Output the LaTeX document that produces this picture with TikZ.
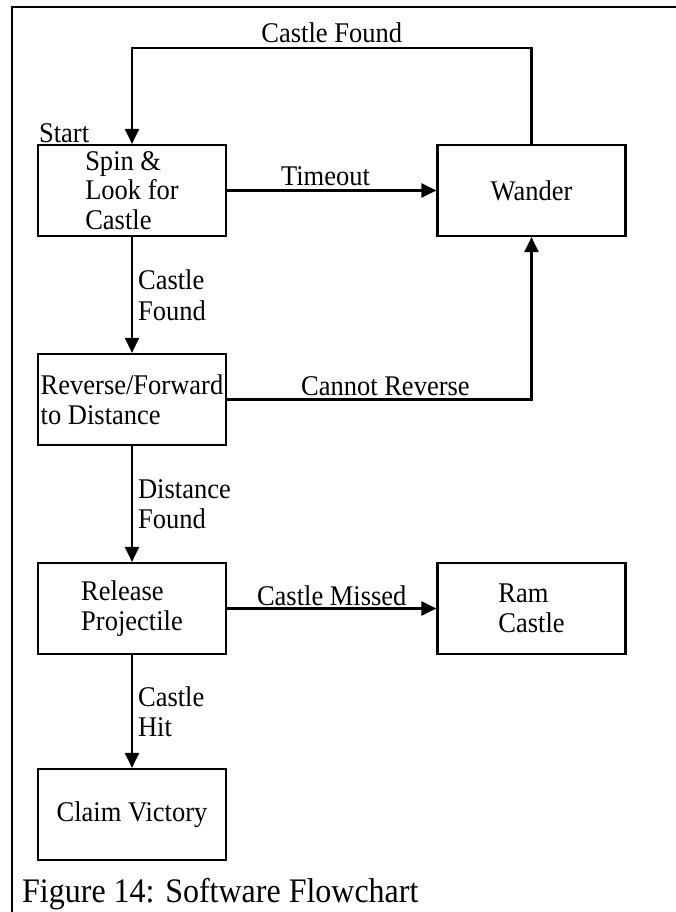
\documentclass[tikz,border=0pt]{standalone}
\usepackage{fontspec}
\setmainfont{Liberation Serif}[FakeStretch=0.93]
\usetikzlibrary{arrows.meta,positioning}

\begin{document}
\begin{tikzpicture}[x=1pt,y=-1pt,>={Triangle[length=15pt,width=14pt]},
  state/.style={draw,line width=2.2pt,minimum width=188pt,minimum height=91pt,
    inner sep=0pt,align=left,font=\fontsize{28.5}{29.5}\selectfont},
  flow/.style={->,line width=2.2pt},
  edgelabel/.style={inner sep=0pt,align=left,font=\fontsize{28.5}{30.5}\selectfont}]
  \useasboundingbox (0,0) rectangle (676,912);
  % page frame: only the top and left rules show
  \draw[line width=2.4pt] (12,912) -- (12,7) -- (676,7);

  \node[state] (spin) at (132,190.5) {Spin \&\\Look for\\Castle};
  \node[state,align=center] (wander) at (531.5,190.5) {Wander};
  \node[state] (rev) at (132,399.5) {Reverse/Forward\\to Distance};
  \node[state] (rel) at (132,608.5) {Release\\Projectile};
  \node[state] (ram) at (531.5,608.5) {Ram\\Castle};
  \node[state,align=center] (claim) at (132,814.5) {Claim Victory};

  \node[edgelabel,anchor=south west] (start)
      at ([xshift=2pt,yshift=1pt]spin.north west) {Start};

  \draw[flow] (wander.north) |- node[edgelabel,pos=.75,above=4pt] (lfound)
      {Castle Found} ([yshift=96pt]spin.north) -- (spin.north);
  \draw[flow] (spin) -- node[edgelabel,pos=.47,above=4pt] (ltime) {Timeout} (wander);
  \draw[flow] (spin) -- node[edgelabel,right=5pt] (lcastle) {Castle\\Found} (rev);
  \draw[flow] (rev.east) -| node[edgelabel,pos=.26,above=3pt] (lnorev)
      {Cannot Reverse} (wander.south);
  \draw[flow] (rev) -- node[edgelabel,right=5pt] (ldist) {Distance\\Found} (rel);
  \draw[flow] (rel) -- node[edgelabel,above=2pt] (lmiss) {Castle Missed} (ram);
  \draw[flow] (rel) -- node[edgelabel,right=5pt] (lhit) {Castle\\Hit} (claim);

  \node[anchor=base west,inner sep=0pt,font=\fontsize{34.4}{38}\selectfont]
      (caption) at (22,902) {Figure 14: Software Flowchart};
\end{tikzpicture}
\end{document}
